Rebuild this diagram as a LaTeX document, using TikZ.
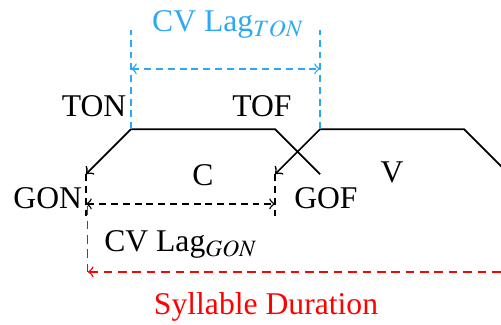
\documentclass[tikz,border=0pt]{standalone}
\usepackage{mathptmx}
\usepackage{fontspec}
\setmainfont{Liberation Serif}
\definecolor{lagblue}{RGB}{45,168,245}

\begin{document}
\begin{tikzpicture}[x=0.55cm, y=0.55cm, font=\fontsize{11}{13}\selectfont,
		gesture/.style={line width=0.6pt, <-},
		lag/.style={dash pattern=on 2.4pt off 1.7pt, line width=0.5pt}]
	\clip (-1.91,-3.38) rectangle (9.22,3.82);
	% points des gestes
	\coordinate (gon) at (0,-0.05);
	\coordinate (ton) at (1,0.95);
	\coordinate (tof) at (4.2,0.95);
	\coordinate (gof) at (5.2,-0.05);
	\coordinate (vgon) at (4.2,-0.05);
	\coordinate (vton) at (5.2,0.95);
	\coordinate (vtof) at (8.4,0.95);
	\coordinate (vgof) at (9.4,-0.05);
	% C et V
	\draw[gesture] (gon)--(ton)--(tof)--(gof);
	\draw[gesture] (vgon)--(vton)--(vtof)--(vgof);
	% CV lag TON
	\coordinate (tontop) at (1,3.16);
	\coordinate (vtontop) at (5.2,3.16);
	\coordinate (tonarr) at (1,2.29);
	\coordinate (vtonarr) at (5.2,2.29);
	\draw[lag, lagblue] (ton)--(tontop);
	\draw[lag, lagblue] (vton)--(vtontop);
	\draw[lag, lagblue, <->] (tonarr)--(vtonarr);
	% CV lag GON
	\coordinate (gonbot) at (0,-1.02);
	\coordinate (vgonbot) at (4.2,-1.02);
	\coordinate (gonarr) at (0,-0.71);
	\coordinate (vgonarr) at (4.2,-0.71);
	\draw[lag] (gon)--(gonbot);
	\draw[lag] (vgon)--(vgonbot);
	\draw[lag, <->] (gonarr)--(vgonarr);
	% duree de la syllabe
	\coordinate (syltop) at (0.04,-0.76);
	\coordinate (sylbot) at (0.04,-2.22);
	\coordinate (sylend) at (9.4,-2.22);
	\draw[lag, red, dash pattern=on 3pt off 2pt] (syltop)--(sylbot);
	\draw[lag, red, dash pattern=on 3pt off 2pt, <-] (sylbot)--(sylend);
	% etiquettes
	\node (tonlbl) at (0.18,1.47) {TON};
	\node (toflbl) at (3.91,1.47) {TOF};
	\node (gonlbl) at (-0.85,-0.58) {GON};
	\node (goflbl) at (5.33,-0.58) {GOF};
	\node (clbl) at (2.6,-0.07) {C};
	\node (vlbl) at (6.8,0) {V};
	\node[text=lagblue] (toplag) at (3.16,3.28) {CV Lag$_{TON}$};
	\node (botlag) at (2.11,-1.62) {CV Lag$_{GON}$};
	\node[text=red] (syllbl) at (4.0,-3.0) {Syllable Duration};
\end{tikzpicture}
\end{document}
